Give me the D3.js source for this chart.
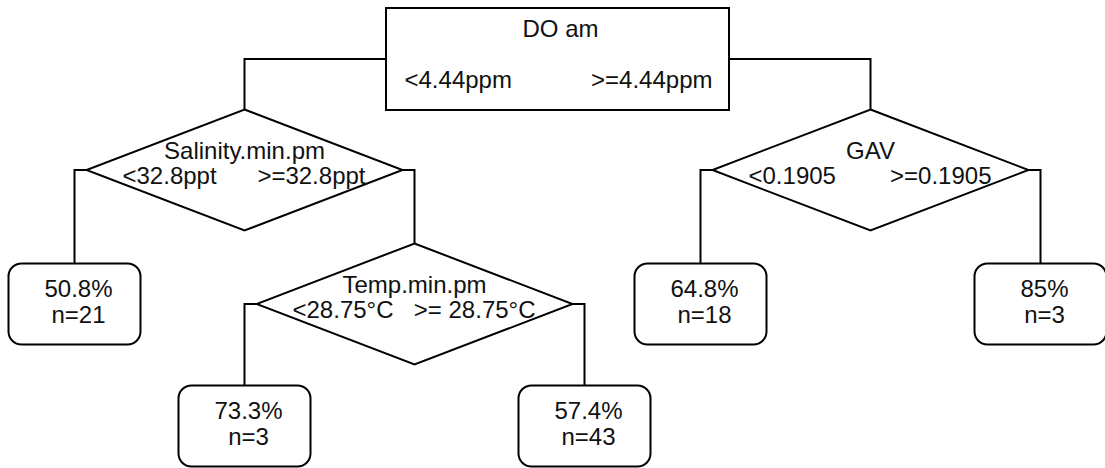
<!DOCTYPE html>
<html>
<head>
<meta charset="utf-8">
<script src="https://cdn.jsdelivr.net/npm/d3@7"></script>
<style>
  html, body { margin: 0; padding: 0; background: #fff; }
  svg { display: block; }
  text { font-family: "Liberation Sans", Arial, sans-serif; fill: #111; }
</style>
</head>
<body>
<svg id="chart" width="1105" height="468"></svg>
<script>
// ---------------- data ----------------
const nodeIds     = ["do", "sal", "gav", "leafA", "temp", "leafB", "leafC", "leafD", "leafE"];
const nodeParents = ["",   "do",  "do",  "sal",   "sal",  "temp",  "temp",  "gav",   "gav"];
const nodeKinds   = ["box", "diamond", "diamond", "leaf", "diamond", "leaf", "leaf", "leaf", "leaf"];

const splitIds         = ["do", "sal", "gav", "temp"];
const splitVariables   = ["DO am", "Salinity.min.pm", "GAV", "Temp.min.pm"];
const splitLeftLabels  = ["<4.44ppm", "<32.8ppt", "<0.1905", "<28.75°C"];
const splitRightLabels = [">=4.44ppm", ">=32.8ppt", ">=0.1905", ">= 28.75°C"];

const leafIds      = ["leafA", "leafB", "leafC", "leafD", "leafE"];
const leafPercents = ["50.8%", "73.3%", "57.4%", "64.8%", "85%"];
const leafCounts   = [21, 3, 43, 18, 3];

// ---------------- layout parameters ----------------
const W = 1105, H = 468;
const rootX = 557.5;
const spread = { box: 313, diamond: 170 };
const boxW = 343, boxH = 102;
const diaHW = 158, diaHH = 60.5;
const leafW = 132, leafH = 81, leafR = 13;
const depthY = d3.scaleLinear().domain([0, 1, 2, 3]).range([59, 170, 304, 426]);
const fontSize = 24;

// ---------------- build tree ----------------
const table = nodeIds.map((id, i) => ({ id, parent: nodeParents[i] || null, kind: nodeKinds[i] }));
const root = d3.stratify().id(d => d.id).parentId(d => d.parent)(table);

root.x = rootX;
root.eachBefore(n => {
  if (n.children) {
    const s = spread[n.data.kind];
    n.children[0].x = n.x - s;
    n.children[1].x = n.x + s;
  }
});
root.each(n => { n.y = depthY(n.depth); });

function halfWidth(n) {
  return n.data.kind === "box" ? boxW / 2 : n.data.kind === "diamond" ? diaHW : leafW / 2;
}
function topY(n) {
  return n.y - (n.data.kind === "box" ? boxH / 2 : n.data.kind === "diamond" ? diaHH : leafH / 2);
}

const svg = d3.select("#chart");

// ---------------- connectors ----------------
svg.append("g")
  .attr("fill", "none")
  .attr("stroke", "#000")
  .attr("stroke-width", 2)
  .selectAll("path")
  .data(root.links())
  .join("path")
  .attr("d", l => {
    const p = l.source, c = l.target;
    const side = c.x < p.x ? -1 : 1;
    const path = d3.path();
    path.moveTo(p.x + side * halfWidth(p), p.y);
    path.lineTo(c.x, p.y);
    path.lineTo(c.x, topY(c));
    return path.toString();
  });

// ---------------- nodes ----------------
const nodes = root.descendants();
const g = svg.append("g").attr("fill", "#fff").attr("stroke", "#000").attr("stroke-width", 2);

g.selectAll("rect.box")
  .data(nodes.filter(n => n.data.kind === "box"))
  .join("rect")
  .attr("class", "box")
  .attr("x", n => n.x - boxW / 2)
  .attr("y", n => n.y - boxH / 2)
  .attr("width", boxW)
  .attr("height", boxH);

g.selectAll("path.dia")
  .data(nodes.filter(n => n.data.kind === "diamond"))
  .join("path")
  .attr("class", "dia")
  .attr("d", n => `M${n.x},${n.y - diaHH}L${n.x + diaHW},${n.y}L${n.x},${n.y + diaHH}L${n.x - diaHW},${n.y}Z`);

g.selectAll("rect.leaf")
  .data(nodes.filter(n => n.data.kind === "leaf"))
  .join("rect")
  .attr("class", "leaf")
  .attr("x", n => n.x - leafW / 2)
  .attr("y", n => n.y - leafH / 2)
  .attr("width", leafW)
  .attr("height", leafH)
  .attr("rx", leafR);

// ---------------- text ----------------
const byId = new Map(nodes.map(n => [n.id, n]));
const splits = splitIds.map((id, i) => ({
  node: byId.get(id), name: splitVariables[i], left: splitLeftLabels[i], right: splitRightLabels[i]
}));
const leaves = leafIds.map((id, i) => ({ node: byId.get(id), pct: leafPercents[i], n: leafCounts[i] }));

const tg = svg.append("g").style("font-size", fontSize + "px");
const isBox = s => s.node.data.kind === "box";

tg.selectAll("text.title").data(splits).join("text")
  .attr("class", "title")
  .attr("x", s => s.node.x + (isBox(s) ? 3 : 0))
  .attr("y", s => s.node.y + (isBox(s) ? -22 : -11))
  .attr("text-anchor", "middle")
  .text(s => s.name);

tg.selectAll("text.left").data(splits).join("text")
  .attr("class", "left")
  .attr("x", s => s.node.x + (isBox(s) ? -153 : -122))
  .attr("y", s => s.node.y + (isBox(s) ? 29 : 14))
  .attr("text-anchor", "start")
  .text(s => s.left);

tg.selectAll("text.right").data(splits).join("text")
  .attr("class", "right")
  .attr("x", s => s.node.x + (isBox(s) ? 155 : 121))
  .attr("y", s => s.node.y + (isBox(s) ? 29 : 14))
  .attr("text-anchor", "end")
  .text(s => s.right);

tg.selectAll("text.pct").data(leaves).join("text")
  .attr("class", "pct")
  .attr("x", l => l.node.x + 4)
  .attr("y", l => l.node.y - 7.5)
  .attr("text-anchor", "middle")
  .text(l => l.pct);

tg.selectAll("text.cnt").data(leaves).join("text")
  .attr("class", "cnt")
  .attr("x", l => l.node.x + 4)
  .attr("y", l => l.node.y + 18.5)
  .attr("text-anchor", "middle")
  .text(l => "n=" + l.n);
</script>
</body>
</html>
